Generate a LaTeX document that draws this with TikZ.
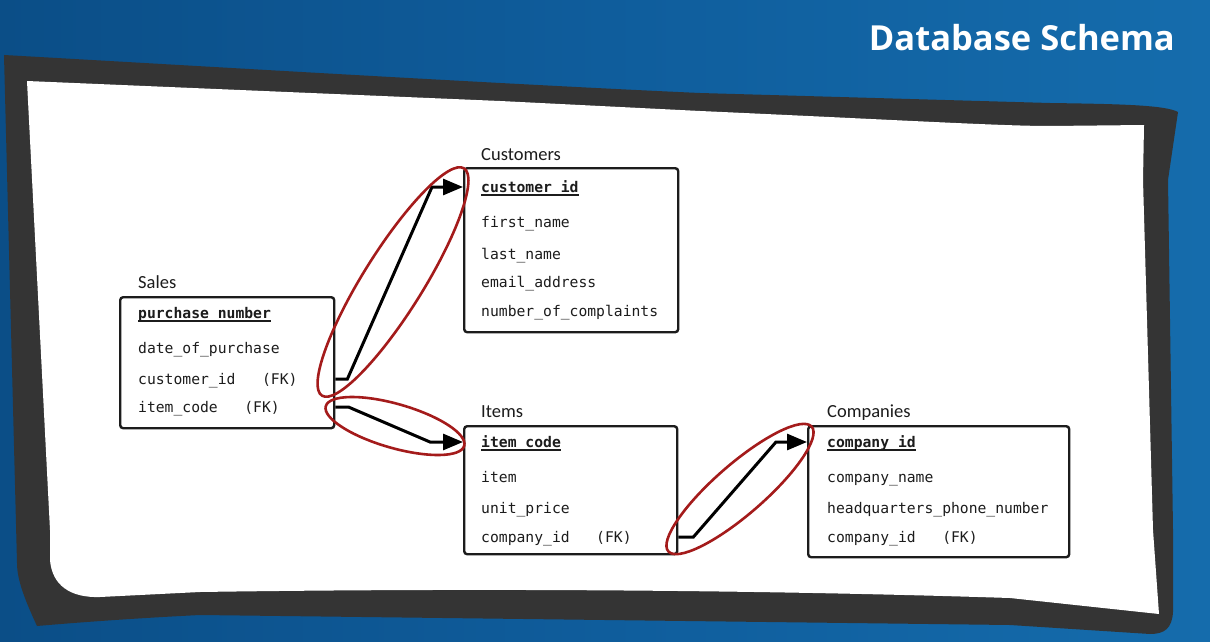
\documentclass[tikz,border=0pt]{standalone}
\usepackage{fontspec}
\setmainfont{Carlito}
\newfontfamily\monofont{DejaVu Sans Mono}
\newfontfamily\headfont{Open Sans}
\usetikzlibrary{arrows.meta}

\definecolor{bgdeep}{HTML}{0B4E87}
\definecolor{bgmid}{HTML}{0F5D9C}
\definecolor{bglite}{HTML}{156CAC}
\definecolor{frame}{HTML}{343434}
\definecolor{ink}{HTML}{1C1C1C}
\definecolor{marker}{HTML}{A41B1B}

% primary key: bold text with a heavy underline
\newcommand\pkey[1]{\setbox0\hbox{\bfseries #1}\rlap{\rule[-4pt]{\wd0}{1.7pt}}\box0}

\begin{document}
\begin{tikzpicture}[x=1pt,y=-1pt,
  tablebox/.style={draw=ink, line width=2.4pt, rounded corners=3pt, fill=white,
                   inner sep=0pt, anchor=north west},
  tabletitle/.style={anchor=base west, inner sep=0pt, text=ink,
                     font=\fontsize{18.5}{22}\selectfont},
  field/.style={anchor=base west, inner sep=0pt, text=ink,
                font=\monofont\fontsize{14.7}{18}\selectfont},
  fklink/.style={draw=black, line width=3pt, line join=miter,
                 -{Triangle[length=20pt,width=16pt]}},
  ring/.style={draw=marker, line width=2.6pt}]

\useasboundingbox (0,0) rectangle (1210,642);

% background
\shade[left color=bgdeep, right color=bglite, middle color=bgmid] (0,0) rectangle (1210,642);

% sketched frame
\fill[frame] (4,55) .. controls (200,66) and (500,84) .. (700,93) -- (1050,103)
  .. controls (1120,104) and (1165,105) .. (1178,112) -- (1168,180) -- (1173,530)
  -- (1173,612) .. controls (1172,628) and (1165,634) .. (1150,634) -- (1010,625)
  -- (200,615) .. controls (120,619) and (60,624) .. (37,626)
  .. controls (25,600) and (17,580) .. (17,563) -- cycle;
\fill[white] (27,81) -- (500,101) -- (700,111) .. controls (900,120) and (1000,126) .. (1050,126)
  -- (1144,125) -- (1143,180) -- (1153,530) -- (1159,614)
  -- (1010,598) .. controls (700,588) and (400,589) .. (200,592) -- (100,597)
  .. controls (70,598) and (52,585) .. (50,560) -- (50,530) -- cycle;

% heading
\node[anchor=base east, inner sep=0pt, text=white,
      font=\headfont\bfseries\fontsize{34.5}{40}\selectfont] (heading) at (1175,51) {Database Schema};

% ---- Sales
\node[tabletitle] (salesT) at (138,288) {Sales};
\node[tablebox, minimum width=214pt, minimum height=131pt] (sales) at (119,296) {};
\node[field] (s1) at (138,318) {\pkey{purchase\_number}};
\node[field] (s2) at (138,353) {date\_of\_purchase};
\node[field] (s3) at (138,384) {customer\_id\ \ \ (FK)};
\node[field] (s4) at (138,412) {item\_code\ \ \ (FK)};

% ---- Customers
\node[tabletitle] (custT) at (481,160) {Customers};
\node[tablebox, minimum width=214pt, minimum height=164pt] (cust) at (463,167) {};
\node[field] (c1) at (481,192) {\pkey{customer\_id}};
\node[field] (c2) at (481,227) {first\_name};
\node[field] (c3) at (481,259) {last\_name};
\node[field] (c4) at (481,287) {email\_address};
\node[field] (c5) at (481,316) {number\_of\_complaints};

% ---- Items
\node[tabletitle] (itemT) at (481,417) {Items};
\node[tablebox, minimum width=213pt, minimum height=128pt] (items) at (463,425) {};
\node[field] (i1) at (481,447) {\pkey{item\_code}};
\node[field] (i2) at (481,482) {item};
\node[field] (i3) at (481,513) {unit\_price};
\node[field] (i4) at (481,542) {company\_id\ \ \ (FK)};

% ---- Companies
\node[tabletitle] (compT) at (827,417) {Companies};
\node[tablebox, minimum width=261pt, minimum height=131pt] (comp) at (807,425) {};
\node[field] (k1) at (827,447) {\pkey{company\_id}};
\node[field] (k2) at (827,482) {company\_name};
\node[field] (k3) at (827,513) {headquarters\_phone\_number};
\node[field] (k4) at (827,542) {company\_id\ \ \ (FK)};

% ---- foreign key links
\draw[fklink] (sales.east |- 0,379) -- ++(12,0) -- (432,187) -- (cust.west |- 0,187);
\draw[fklink] (sales.east |- 0,407) -- ++(13,0) -- (430,442) -- (items.west |- 0,442);
\draw[fklink] (items.east |- 0,537) -- ++(15,0) -- (776,442) -- (comp.west |- 0,442);

% ---- hand-drawn highlights
\draw[ring, rotate around={58:(393,282)}] (393,282) ellipse [x radius=134, y radius=30];
\draw[ring, rotate around={-16:(395,426)}] (395,426) ellipse [x radius=72, y radius=22];
\draw[ring, rotate around={41:(740,489)}] (740,489) ellipse [x radius=95, y radius=25];

\end{tikzpicture}
\end{document}
